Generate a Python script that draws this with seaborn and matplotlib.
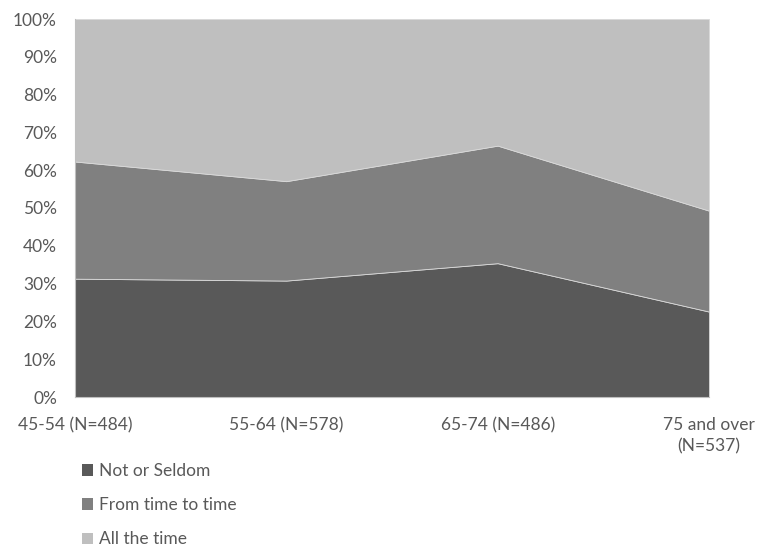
import matplotlib
matplotlib.use("Agg")
import matplotlib.pyplot as plt
from matplotlib.patches import Patch
from matplotlib.ticker import PercentFormatter
import seaborn as sns
import numpy as np

# Age groups and share of respondents per answer (percent)
age_groups = ["45-54 (N=484)", "55-64 (N=578)", "65-74 (N=486)", "75 and over\n(N=537)"]
not_or_seldom = [31.3, 30.8, 35.4, 22.6]
time_to_time = [31.0, 26.3, 31.1, 26.7]
all_the_time = [37.7, 42.9, 33.5, 50.7]
series_names = ["Not or Seldom", "From time to time", "All the time"]
series_colors = ["#595959", "#808080", "#bfbfbf"]

sns.set_style("white")
plt.rcParams["font.family"] = ["Lato", "DejaVu Sans"]
text_color = "#595959"
fs = 12.5

fig = plt.figure(figsize=(7.6, 5.47), dpi=100)
ax = fig.add_axes([75 / 760, 1 - 397 / 547, (709 - 75) / 760, (397 - 19) / 547])

x = np.arange(len(age_groups))
ax.stackplot(x, not_or_seldom, time_to_time, all_the_time,
             colors=series_colors, edgecolor="#d9d9d9", linewidth=0.6)

ax.set_xlim(0, len(age_groups) - 1)
ax.set_ylim(0, 100)
ax.set_yticks(np.arange(0, 101, 10))
ax.yaxis.set_major_formatter(PercentFormatter(decimals=0))
ax.set_xticks(x)
ax.set_xticklabels(age_groups, linespacing=1.4)

for side in ["top", "right"]:
    ax.spines[side].set_visible(False)
for side in ["left", "bottom"]:
    ax.spines[side].set_color("#bfbfbf")
    ax.spines[side].set_linewidth(0.8)

ax.tick_params(axis="both", which="major", direction="out", length=4, width=0.8,
               color="#bfbfbf", labelcolor=text_color, labelsize=fs)
ax.tick_params(axis="y", pad=9)
ax.tick_params(axis="x", pad=10.5)
ax.grid(False)

handles = [Patch(facecolor=c, edgecolor="none") for c in series_colors]
fig.legend(handles, series_names, loc="upper left", bbox_to_anchor=(75 / 760, 1 - 456 / 547),
           frameon=False, fontsize=fs, labelcolor=text_color,
           handlelength=0.65, handleheight=0.65, handletextpad=0.35,
           labelspacing=1.05, borderaxespad=0)

fig.savefig("out.png", dpi=100, facecolor="white")
